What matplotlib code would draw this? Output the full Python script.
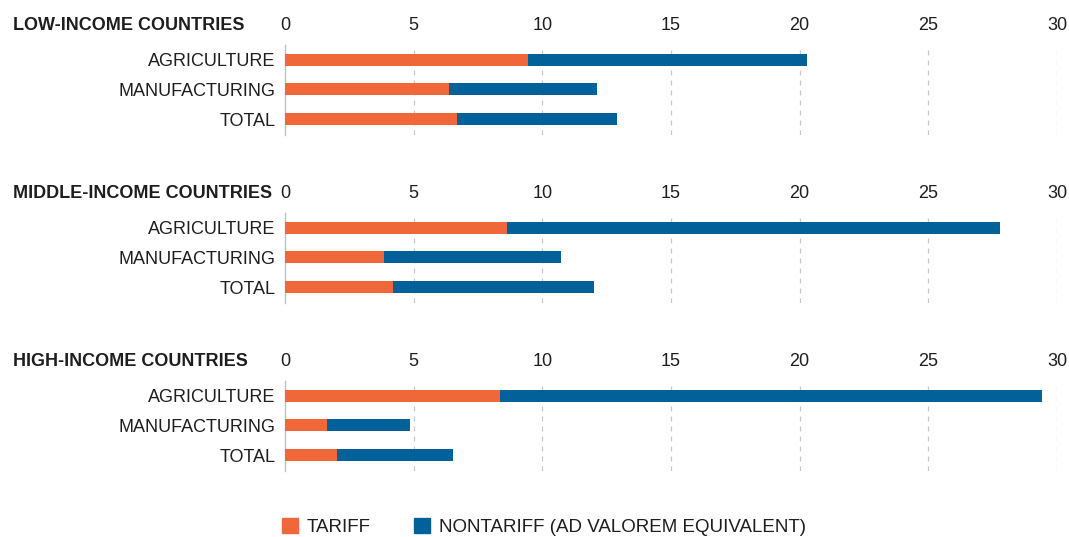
import numpy as np
import matplotlib
matplotlib.use('Agg')
import matplotlib.pyplot as plt
from matplotlib.patches import Patch

matplotlib.rcParams['font.family'] = ['Liberation Sans', 'DejaVu Sans']

groups = ['LOW-INCOME COUNTRIES', 'MIDDLE-INCOME COUNTRIES', 'HIGH-INCOME COUNTRIES']
sectors = ['AGRICULTURE', 'MANUFACTURING', 'TOTAL']
tariff = [[9.45, 6.39, 6.70],
          [8.64, 3.86, 4.20],
          [8.34, 1.62, 2.03]]
nontariff = [[10.83, 5.73, 6.20],
             [19.14, 6.86, 7.80],
             [21.06, 3.25, 4.49]]
xticks = [0, 5, 10, 15, 20, 25, 30]

c_tariff = '#f0683a'
c_nontariff = '#03619a'
txt = '#1e1e1e'

fig = plt.figure(figsize=(10.69, 5.37), dpi=100)
W, H = 1069, 537
left, right = 285, 1057
tops = [45, 213, 381]
ax_h = 90

for g, top in enumerate(tops):
    ax = fig.add_axes([left / W, 1 - (top + ax_h) / H, (right - left) / W, ax_h / H])
    y = np.arange(len(sectors))
    ax.barh(y, tariff[g], height=0.4, color=c_tariff, zorder=3)
    ax.barh(y, nontariff[g], left=tariff[g], height=0.4, color=c_nontariff, zorder=3)
    ax.set_xlim(0, 30)
    ax.set_ylim(2.54, -0.5)
    ax.set_yticks(y)
    ax.set_yticklabels(sectors, fontsize=13, color=txt)
    ax.set_xticks(xticks)
    ax.set_xticklabels([str(t) for t in xticks], fontsize=13, color=txt)
    ax.xaxis.tick_top()
    ax.tick_params(axis='both', length=0)
    ax.tick_params(axis='x', pad=8)
    ax.tick_params(axis='y', pad=7)
    for s in ['top', 'right', 'bottom']:
        ax.spines[s].set_visible(False)
    ax.spines['left'].set_color('#c0c0c0')
    ax.spines['left'].set_linewidth(1.0)
    for t in xticks[1:]:
        ax.axvline(t, color='#c8c8c8', linestyle=(0, (4, 4)), linewidth=0.9, zorder=1)
    fig.text(13 / W, 1 - (top - 20) / H, groups[g], fontsize=13, fontweight='bold',
             color=txt, ha='left', va='center')

handles = [Patch(color=c_tariff), Patch(color=c_nontariff)]
fig.legend(handles, ['TARIFF', 'NONTARIFF (AD VALOREM EQUIVALENT)'], loc='center',
           bbox_to_anchor=(0.509, 10 / H), ncol=2, frameon=False, fontsize=13.5,
           handlelength=0.85, handleheight=0.85, handletextpad=0.5, columnspacing=2.3,
           labelcolor=txt)

fig.savefig('out.png', dpi=100)
